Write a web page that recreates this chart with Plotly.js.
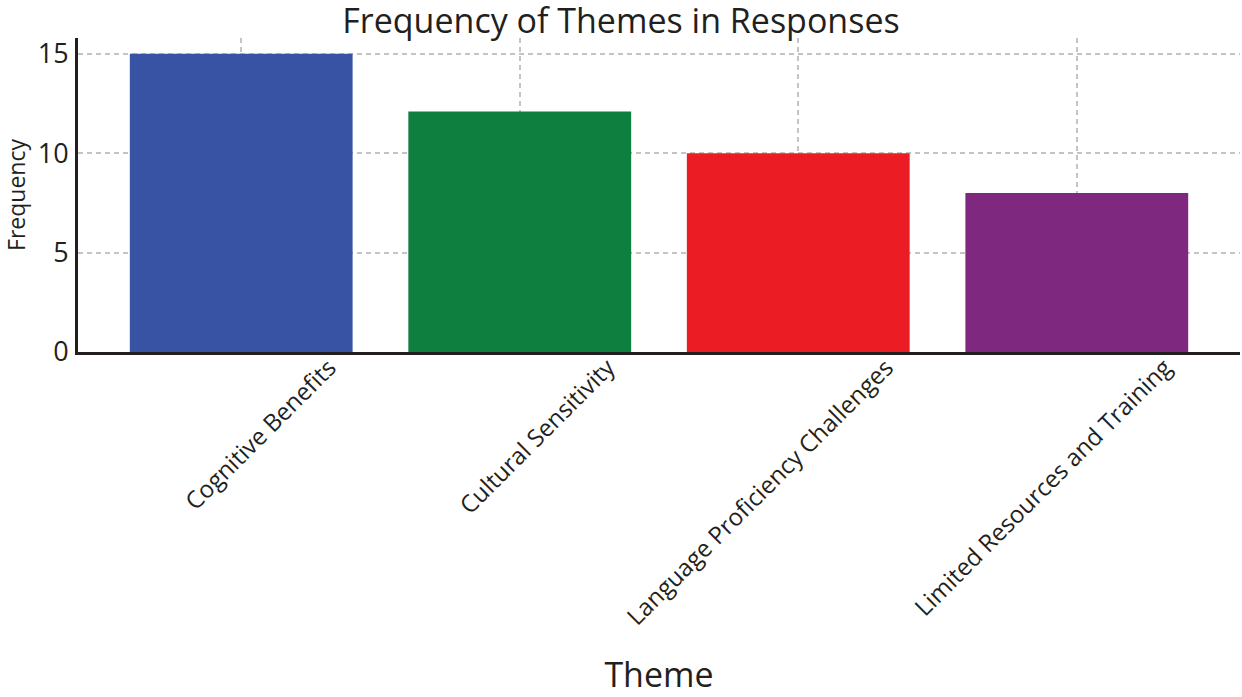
<!DOCTYPE html>
<html>
<head>
<meta charset="utf-8">
<script src="https://cdn.plot.ly/plotly-3.0.1.min.js"></script>
<style>
  html, body { margin: 0; padding: 0; background: #fff; }
  #chart { width: 1242px; height: 697px; }
</style>
</head>
<body>
<div id="chart"></div>
<script>
// data
const themes = [
    "Cognitive Benefits",
    "Cultural Sensitivity",
    "Language Proficiency Challenges",
    "Limited Resources and Training",
];
const frequency = [15, 12.1, 10, 8];
const barColors = ["#3953a4", "#0f7f40", "#ec1c24", "#7f2880"];

const font = "'Open Sans', 'Noto Sans', sans-serif";

Plotly.newPlot("chart", [{
    x: themes,
    y: frequency,
    type: "bar",
    marker: { color: barColors },
    hoverinfo: "x+y",
}], {
    width: 1242,
    height: 697,
    margin: { l: 78, r: 2, t: 38, b: 345 },
    paper_bgcolor: "#fff",
    plot_bgcolor: "#fff",
    bargap: 0.2,
    showlegend: false,
    font: { family: font, color: "#231f20" },
    title: {
        text: "Frequency of Themes in Responses",
        font: { size: 34, family: font, color: "#231f20" },
        x: 0.5,
        xanchor: "center",
        y: 0.97,
        yanchor: "middle",
    },
    xaxis: {
        range: [-0.586, 3.586],
        tickangle: -45,
        ticklabelshift: 88,
        ticklabelstandoff: -11,
        tickfont: { size: 24 },
        showgrid: true,
        gridcolor: "#c4c4c4",
        griddash: "5px,4px",
        gridwidth: 2,
        showline: true,
        linecolor: "#231f20",
        linewidth: 3,
        ticks: "",
        automargin: true,
        title: { text: "Theme", font: { size: 34 }, standoff: 40 },
    },
    yaxis: {
        range: [0, 15.79],
        tickvals: [0, 5, 10, 15],
        tickfont: { size: 27 },
        showgrid: true,
        gridcolor: "#c4c4c4",
        griddash: "5px,4px",
        gridwidth: 2,
        zeroline: false,
        showline: true,
        linecolor: "#231f20",
        linewidth: 3,
        ticks: "",
        ticklabelstandoff: 1,
        automargin: false,
        title: { text: "Frequency", font: { size: 23 }, standoff: 20 },
    },
}, { displayModeBar: false, staticPlot: true });
</script>
</body>
</html>
